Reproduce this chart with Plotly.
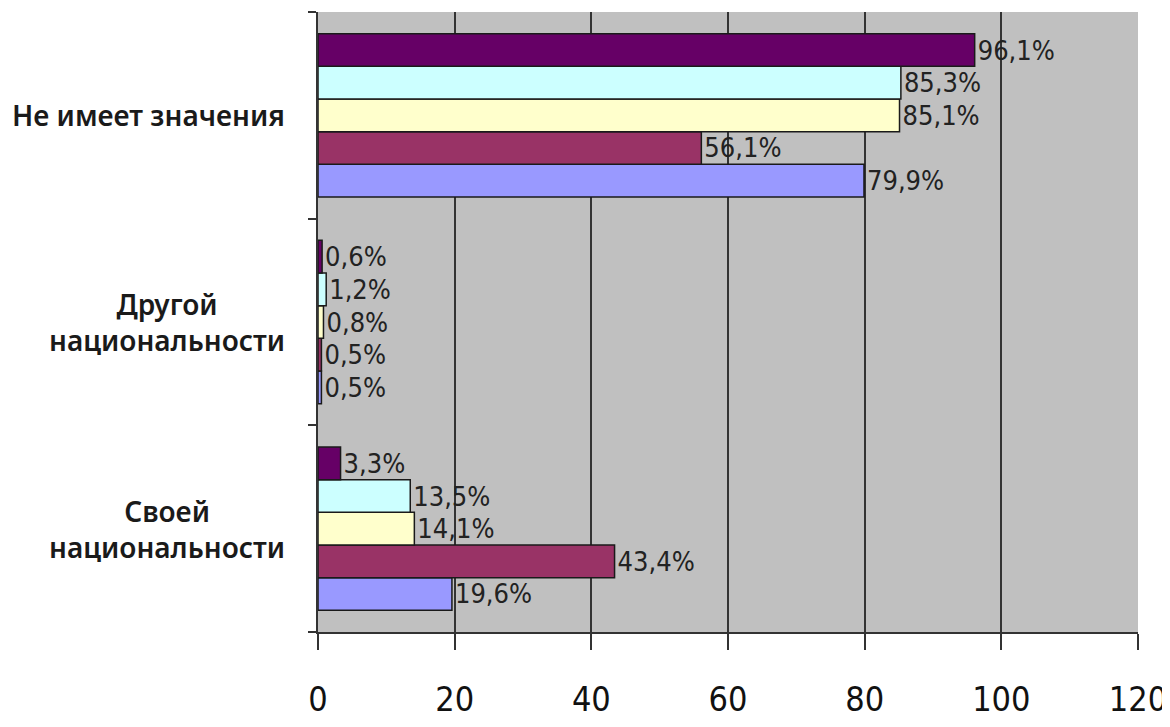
import plotly.graph_objects as go

categories = ["Своей<br>национальности", "Другой<br>национальности", "Не имеет значения"]
series_names = ["Серия 1", "Серия 2", "Серия 3", "Серия 4", "Серия 5"]
# trace order = bottom-to-top bar inside each group
s1 = [19.6, 0.5, 79.9]   # periwinkle
s2 = [43.4, 0.5, 56.1]   # plum
s3 = [14.1, 0.8, 85.1]   # light yellow
s4 = [13.5, 1.2, 85.3]   # light cyan
s5 = [3.3, 0.6, 96.1]    # dark purple
series = [s1, s2, s3, s4, s5]
colors = ["#9999FF", "#993366", "#FFFFCC", "#CCFFFF", "#660066"]
x_ticks = [0, 20, 40, 60, 80, 100, 120]

NARROW = "DejaVu Sans Condensed, Liberation Sans Narrow, Arial Narrow, sans-serif"

fig = go.Figure()
for name, vals, col in zip(series_names, series, colors):
    fig.add_trace(go.Bar(
        y=list(range(len(categories))), x=vals, name=name, orientation="h",
        marker=dict(color=col, line=dict(color="#1a1a1a", width=1.5)),
        texttemplate="%{x:.1f}%", textposition="outside", cliponaxis=False,
        constraintext="none",
        textfont=dict(family=NARROW, size=27, color="#222222"),
    ))

for i, c in enumerate(categories):
    fig.add_annotation(
        x=0, xref="paper", xanchor="right", xshift=-31,
        y=i, yref="y", yanchor="middle",
        text=c, showarrow=False, align="center",
        font=dict(family="Noto Sans", size=28, color="#1a1a1a", weight=600),
    )

fig.update_layout(
    width=1162, height=719,
    margin=dict(l=310, r=32, t=4, b=95, autoexpand=False),
    paper_bgcolor="white", plot_bgcolor="#C0C0C0",
    barmode="group", bargap=0.21, bargroupgap=0,
    showlegend=False, separators=", ",
    xaxis=dict(
        range=[0, 120], tickvals=x_ticks, ticktext=[str(v) for v in x_ticks],
        showgrid=True, gridcolor="#333333", gridwidth=2, automargin=False,
        zeroline=False, showline=True, linecolor="#333333", linewidth=2,
        ticks="outside", ticklen=16, tickwidth=2, tickcolor="#333333",
        ticklabelstandoff=20,
        tickfont=dict(family=NARROW, size=34, color="#111111"),
    ),
    yaxis=dict(
        range=[-0.5, 2.5], tickvals=[-0.5, 0.5, 1.5, 2.5], showticklabels=False,
        showgrid=False, zeroline=False, showline=True, linecolor="#333333", linewidth=2,
        ticks="outside", ticklen=8, tickwidth=2, tickcolor="#333333", automargin=False,
    ),
)

fig.write_html("out.html")
